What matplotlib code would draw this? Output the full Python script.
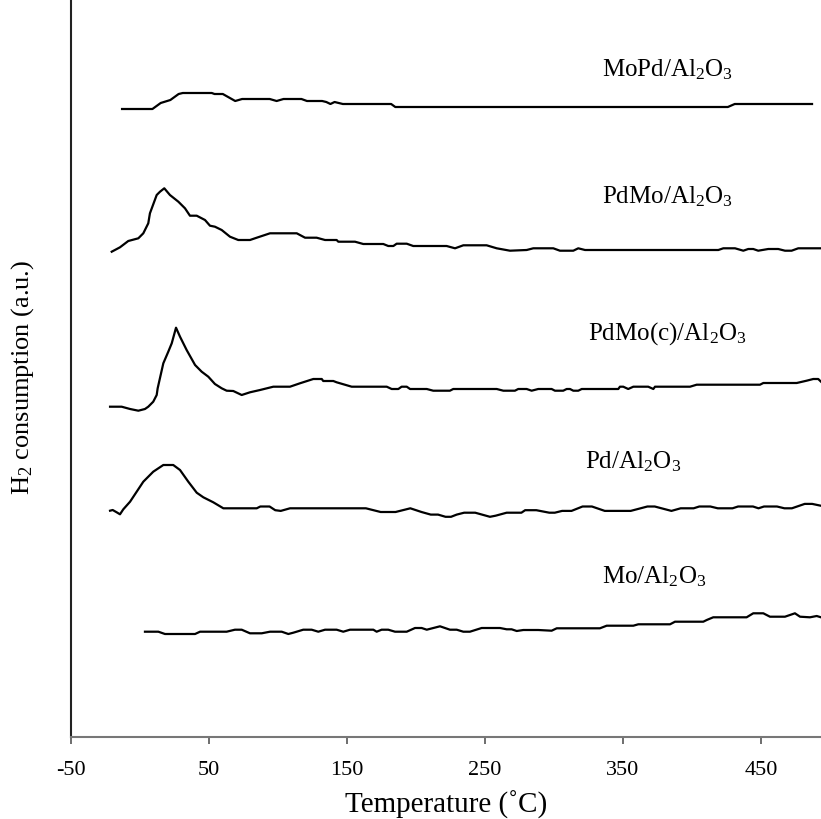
import matplotlib
matplotlib.use("Agg")
import matplotlib.pyplot as plt

plt.rcParams['font.family'] = ['Liberation Serif', 'DejaVu Serif']
plt.rcParams['mathtext.fontset'] = 'custom'
plt.rcParams['mathtext.rm'] = 'Liberation Serif'
plt.rcParams['mathtext.it'] = 'Liberation Serif:italic'
plt.rcParams['mathtext.bf'] = 'Liberation Serif:bold'

# ---- data (temperature in deg C, signal in arbitrary units) ----
mopd_T = [-13, 9, 15, 22, 28, 31, 52, 54, 60, 69, 74, 94, 99, 104, 117, 121, 132, 135,
          138, 141, 147, 182, 185, 426, 431, 487]
mopd_h = [628, 628, 634, 637, 643, 644, 644, 643, 643, 636, 638, 638, 636, 638, 638, 636,
          636, 635, 633, 635, 633, 633, 630, 630, 633, 633]

pdmo_T = [-20.5, -14.5, -8.5, -1.2, 2.4, 6, 7.2, 12.1, 14.5, 17.6, 21.7, 27.8, 32.6, 36.2,
          41.1, 47.1, 50.7, 54.3, 59.2, 65.2, 71.2, 79.7, 84.6, 94.2, 113.6, 119.6, 128,
          134.1, 142.5, 143.7, 155.8, 161.8, 176.3, 179.9, 183.6, 186, 193.3, 198, 217.4,
          222.2, 228.3, 234.3, 251.2, 258.5, 268.1, 280.2, 285, 299.5, 304.3, 314, 317.6,
          322.5, 419.1, 422.7, 431.2, 437.2, 440.8, 444.4, 448, 455.3, 462.5, 467.4, 472.2,
          477, 493.5]
pdmo_h = [485.3, 489.7, 496, 498.7, 503.7, 513.7, 523.7, 542, 545.3, 548.7, 542, 535.3,
          528.7, 521.3, 521.3, 517, 511.3, 510.3, 507, 500.3, 497, 497, 499.3, 503.7, 503.7,
          499.3, 499.3, 497, 497, 495.3, 495.3, 493, 493, 491, 491, 493.3, 493.3, 491, 491,
          491, 488.7, 491.7, 491.7, 488.7, 486.3, 487, 488.7, 488.7, 486.3, 486.3, 488.7,
          487, 487, 488.7, 488.7, 486.3, 488, 488, 486.3, 488, 488, 486.3, 486.3, 488.7,
          488.7]

pdmoc_T = [-21.7, -13.3, -7.2, -1.2, 3.6, 6, 9.6, 12.1, 12.8, 16.9, 20.5, 23, 26.1, 29,
           33.8, 39.9, 44.7, 49.5, 54.3, 59.2, 62.8, 67.6, 73.7, 79.7, 87, 96.6, 108.7,
           115.9, 125.6, 131.7, 132.8, 140.1, 142.5, 153.4, 178.8, 182.4, 187.2, 189.6,
           193.3, 195.7, 207.8, 212.5, 224.6, 227, 258.5, 263.3, 271.7, 274.1, 280.2, 283.8,
           288.6, 298.3, 300.7, 306.7, 309.2, 311.6, 314, 317.6, 320.1, 346.6, 347.8, 350.2,
           353.8, 357.5, 368.3, 372, 373.2, 398.6, 403.4, 449.3, 451.7, 475.9, 483.1, 487.9,
           491.5, 493.5]
pdmoc_h = [330.3, 330.3, 328, 326.3, 328, 330.3, 335.3, 342, 348.7, 373.7, 385.3, 393.7,
           409.3, 400.3, 387, 372, 365.3, 360.3, 353, 348.7, 346.3, 346, 342, 344.7, 347,
           350.3, 350.3, 353.7, 358, 358, 356, 356, 354.7, 350.3, 350.3, 348, 348, 350.3,
           350.3, 348, 348, 346.3, 346.3, 348, 348, 346.3, 346.3, 348, 348, 346.3, 348, 348,
           346.3, 346.3, 348, 348, 346.3, 346.3, 348, 348, 350.3, 350.3, 348, 350.3, 350.3,
           348, 350.3, 350.3, 352.3, 352.3, 354, 354, 356.3, 358, 358, 355.3]

pd_T = [-21.7, -19.8, -16.9, -14.5, -12.1, -7.2, 2.4, 9.6, 16.9, 24.1, 29, 35, 41.1, 45.9,
        53.1, 60.4, 84.6, 87.2, 93.9, 98, 102, 108.7, 163.7, 174.4, 185.2, 195.9, 204,
        210.7, 216, 221.4, 225.4, 229.5, 234.9, 242.9, 253.6, 257.7, 265.7, 276.4, 279.1,
        287.2, 296.6, 300.6, 305.9, 312.7, 320.7, 327.5, 336.8, 355.6, 367.7, 373, 385.1,
        391.8, 401.2, 405.3, 413.3, 418.7, 429.4, 433.4, 444.2, 448.2, 452.2, 461.6, 467,
        472.4, 481.7, 487.1, 493.3]
pd_h = [226.3, 227, 224.7, 222.7, 227.7, 235.3, 255.3, 265.3, 272, 272, 267, 255.3, 244.3,
        239.7, 234.7, 228.7, 228.7, 230.5, 230.5, 226.8, 226.1, 228.7, 228.7, 225, 225,
        228.7, 225, 222.4, 222.4, 220.2, 220.2, 222.4, 224.3, 224.3, 220.2, 221.3, 224.3,
        224.3, 226.8, 226.8, 224.3, 224.3, 226.1, 226.1, 230.5, 230.5, 226.1, 226.1, 230.5,
        230.5, 226.1, 228.7, 228.7, 230.5, 230.5, 228.7, 228.7, 230.5, 230.5, 228.7, 230.5,
        230.5, 228.7, 228.7, 233.1, 233.1, 231.3]

mo_T = [3.6, 13.3, 18.1, 39.9, 43.5, 62.8, 68.8, 73.7, 79.7, 88.2, 94.2, 102.7, 107.5,
        111.1, 118.3, 124.4, 129.2, 134.1, 142.5, 147.3, 152.2, 169.1, 171.5, 175.1, 179.9,
        184.8, 193.3, 199.3, 204.1, 207.8, 217.4, 224.6, 229.5, 234.3, 239.1, 247.6, 260.9,
        265.7, 269.3, 273, 277.8, 288.6, 298.3, 302, 333.3, 338.2, 357.5, 361.1, 384.1,
        387.7, 408.2, 410.7, 415.4, 439.6, 444.4, 451.7, 456.5, 467.4, 471, 474.6, 478.3,
        485.5, 490.4, 493.5]
mo_h = [105.3, 105.3, 103, 103, 105.3, 105.3, 107.3, 107.3, 103.7, 103.7, 105.3, 105.3, 103,
        104.3, 107.3, 107.3, 105.3, 107.3, 107.3, 105.3, 107.3, 107.3, 105.3, 107.3, 107.3,
        105.3, 105.3, 109, 109, 107.3, 110.7, 107.3, 107.3, 105.3, 105.3, 109, 109, 107.7,
        107.7, 106, 107, 107, 106.3, 108.7, 108.7, 111.3, 111.3, 112.7, 112.7, 115.3, 115.3,
        117, 119.7, 119.7, 123.7, 123.7, 120.3, 120.3, 122, 123.7, 120.3, 119.7, 121, 119.7]

series = [
    (mopd_T, mopd_h, 'MoPd/Al$_2$O$_3$', 334.6, 667),
    (pdmo_T, pdmo_h, 'PdMo/Al$_2$O$_3$', 334.6, 540),
    (pdmoc_T, pdmoc_h, 'PdMo(c)/Al$_2$O$_3$', 324.6, 403),
    (pd_T, pd_h, 'Pd/Al$_2$O$_3$', 322.5, 275),
    (mo_T, mo_h, 'Mo/Al$_2$O$_3$', 334.6, 160),
]

xticks = [-50, 50, 150, 250, 350, 450]

fig = plt.figure(figsize=(8.21, 8.19), dpi=100)
ax = fig.add_axes([71 / 821, 82 / 819, 1 - 71 / 821, 1 - 82 / 819])

for T, h, label, lx, ly in series:
    ax.plot(T, h, color='black', lw=1.6, solid_joinstyle='round')
    ax.text(lx, ly, label, fontsize=18, ha='left', va='center', color='black')

ax.set_xlim(-50, 493.5)
ax.set_ylim(0, 737)
ax.set_xticks(xticks)
ax.set_xticklabels([str(t) for t in xticks], fontsize=16)
ax.set_yticks([])
ax.tick_params(axis='x', direction='out', length=5, width=1.2, color='#555555', pad=12)
for s in ['top', 'right']:
    ax.spines[s].set_visible(False)
ax.spines['left'].set_color('#222222')
ax.spines['left'].set_linewidth(1.5)
ax.spines['bottom'].set_color('#777777')
ax.spines['bottom'].set_linewidth(1.5)

ax.set_xlabel('Temperature (˚C)', fontsize=21, labelpad=8)
ax.set_ylabel('H$_2$ consumption (a.u.)', fontsize=19)
ax.yaxis.set_label_coords(-0.046, 0.488)

fig.savefig('out.png', dpi=100)
